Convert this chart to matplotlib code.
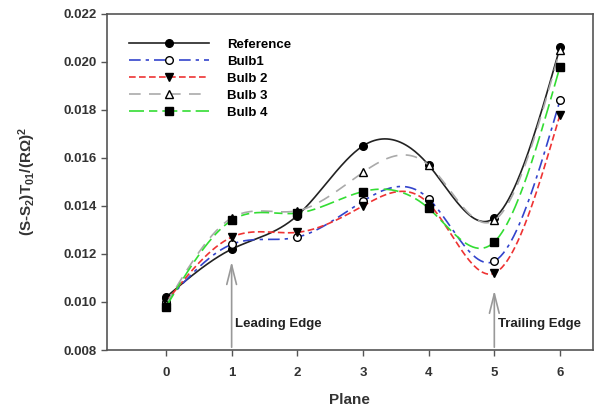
import matplotlib
matplotlib.use('Agg')
import matplotlib.pyplot as plt
import numpy as np

plt.rcParams['font.family'] = ['Liberation Sans', 'DejaVu Sans']
plt.rcParams['font.weight'] = 'bold'
plt.rcParams['mathtext.default'] = 'regular'

# data
planes = [0, 1, 2, 3, 4, 5, 6]
reference = [0.0102, 0.0122, 0.0136, 0.0165, 0.0157, 0.0135, 0.0206]
bulb1 = [0.0100, 0.0124, 0.0127, 0.0142, 0.0143, 0.0117, 0.0184]
bulb2 = [0.0100, 0.0127, 0.0129, 0.0140, 0.0141, 0.0112, 0.0178]
bulb3 = [0.0099, 0.0135, 0.0138, 0.0154, 0.0157, 0.0134, 0.0205]
bulb4 = [0.0098, 0.0134, 0.0137, 0.0146, 0.0139, 0.0125, 0.0198]


def natural_spline(x, y, n=300):
    # natural cubic spline through the points, like the smoothed curves in SigmaPlot
    x = np.asarray(x, float)
    y = np.asarray(y, float)
    k = len(x)
    h = np.diff(x)
    A = np.zeros((k, k))
    b = np.zeros(k)
    A[0, 0] = A[-1, -1] = 1
    for i in range(1, k - 1):
        A[i, i - 1] = h[i - 1]
        A[i, i] = 2 * (h[i - 1] + h[i])
        A[i, i + 1] = h[i]
        b[i] = 6 * ((y[i + 1] - y[i]) / h[i] - (y[i] - y[i - 1]) / h[i - 1])
    M = np.linalg.solve(A, b)
    xs = np.linspace(x[0], x[-1], n)
    idx = np.clip(np.searchsorted(x, xs) - 1, 0, k - 2)
    x0, x1 = x[idx], x[idx + 1]
    hh = x1 - x0
    t0 = x1 - xs
    t1 = xs - x0
    ys = (M[idx] * t0 ** 3 / (6 * hh) + M[idx + 1] * t1 ** 3 / (6 * hh)
          + (y[idx] / hh - M[idx] * hh / 6) * t0
          + (y[idx + 1] / hh - M[idx + 1] * hh / 6) * t1)
    return xs, ys


fig = plt.figure(figsize=(5.97, 4.07), dpi=100)
ax = fig.add_axes([0.179, 0.140, 0.814, 0.826])

series = [
    ('Reference', reference, '#222222', '-', 'o', 'black'),
    ('Bulb1', bulb1, '#3344cc', (0, (7, 3, 2, 3)), 'o', 'white'),
    ('Bulb 2', bulb2, '#ee3333', (0, (4, 2)), 'v', 'black'),
    ('Bulb 3', bulb3, '#aaaaaa', (0, (7, 5)), '^', 'white'),
    ('Bulb 4', bulb4, '#33dd33', (0, (9, 3, 5, 3)), 's', 'black'),
]

for name, vals, col, ls, mk, mfc in series:
    xs, ys = natural_spline(planes, vals)
    ax.plot(xs, ys, color=col, linestyle=ls, linewidth=1.2)
    ax.plot(planes, vals, linestyle='none', marker=mk, markersize=5.5,
            markerfacecolor=mfc, markeredgecolor='black', markeredgewidth=1.0)
    # legend proxy
    ax.plot([], [], color=col, linestyle=ls, linewidth=1.2, marker=mk, markersize=5.5,
            markerfacecolor=mfc, markeredgecolor='black', label=name)

ax.legend(loc='upper left', bbox_to_anchor=(0.022, 0.962), frameon=False,
          fontsize=9.5, handlelength=6.0, handletextpad=1.4, labelspacing=0.36)

# edge markers
ax.annotate('', xy=(1, 0.0118), xytext=(1, 0.008),
            arrowprops=dict(arrowstyle='->,head_length=1.4,head_width=0.35', color='#999999', lw=1.2))
ax.annotate('', xy=(5, 0.0106), xytext=(5, 0.008),
            arrowprops=dict(arrowstyle='->,head_length=1.4,head_width=0.35', color='#999999', lw=1.2))
ax.text(1.05, 0.0091, 'Leading Edge', fontsize=9.5, fontweight='bold', color='#222222', va='center')
ax.text(5.05, 0.0091, 'Trailing Edge', fontsize=9.5, fontweight='bold', color='#222222', va='center')

ax.set_xlim(-0.9, 6.5)
ax.set_ylim(0.008, 0.022)
ax.set_xticks(planes)
ax.set_yticks(np.arange(0.008, 0.0221, 0.002))
ax.set_yticklabels(['%.3f' % v for v in np.arange(0.008, 0.0221, 0.002)])
ax.tick_params(direction='out', length=4, width=1, color='#555555', labelsize=9.5,
               labelcolor='#333333')
ax.tick_params(axis='x', pad=8)
for s in ax.spines.values():
    s.set_color('#555555')
    s.set_linewidth(1.2)

ax.set_xlabel('Plane', fontsize=11, fontweight='bold', color='#333333', labelpad=10)
ax.set_ylabel('(S-S$_2$)T$_{01}$/(R\u03a9)$^2$', fontsize=11, fontweight='bold',
              color='#333333', labelpad=18)

fig.savefig('out.png', dpi=100)
